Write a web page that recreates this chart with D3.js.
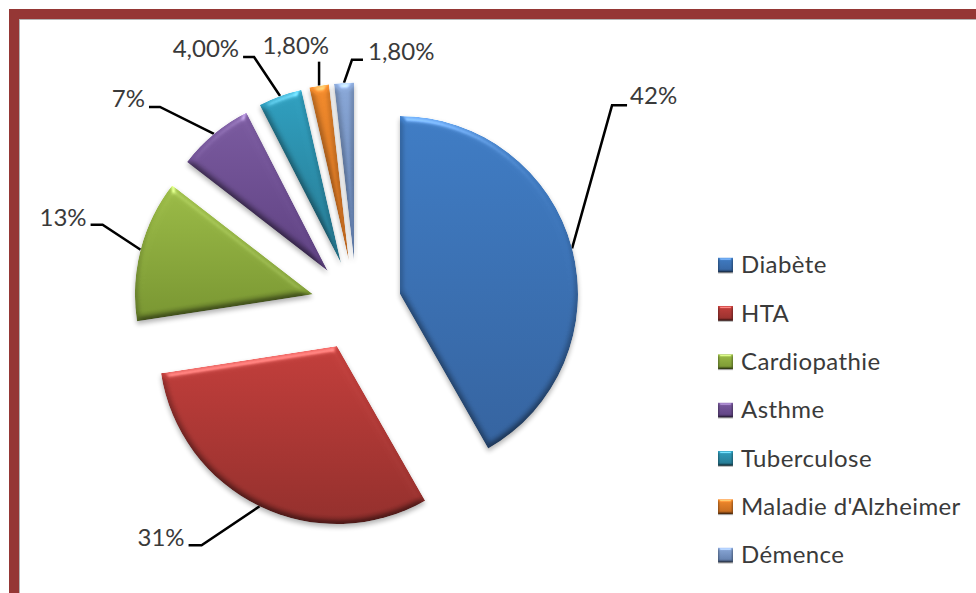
<!DOCTYPE html>
<html>
<head>
<meta charset="utf-8">
<script src="https://cdnjs.cloudflare.com/ajax/libs/d3/7.8.5/d3.min.js"></script>
<style>
  body { margin: 0; background: #fff; }
  text { font-family: Lato, "Open Sans", sans-serif; fill: #3a3a3a; }
</style>
</head>
<body>
<svg></svg>
<script>
// values as printed on the chart (they add up to 100.6, d3.pie normalises them)
var categories = ["Diabète", "HTA", "Cardiopathie", "Asthme", "Tuberculose", "Maladie d'Alzheimer", "Démence"];
var values = [42, 31, 13, 7, 4, 1.8, 1.8];
var valueLabels = ["42%", "31%", "13%", "7%", "4,00%", "1,80%", "1,80%"];
var topColors = ["#3f7cc4", "#c23e3b", "#9bbb47", "#7a5a9f", "#2f9fbf", "#f28a2b", "#8aa8d8"];
var bottomColors = ["#35639f", "#932f2c", "#789531", "#5d4080", "#25768e", "#bf661d", "#5e7aa8"];

var width = 976, height = 593;
var cx = 356.5, cy = 305.5, radius = 178, explode = 45;

// leader line: elbow and end, relative to the slice's outer edge
var leaderElbow = [[40, -143], [-58, 39], [-38, -25], [-54, -27], [-26, -39], [0, -24], [8, -23]];
var leaderEnd = [[55, -143], [-71, 39], [-50, -25], [-65, -27], [-37, -39], [0, -24], [19, -23]];
// label anchor, relative to the leader's end
var labelShift = [[3, -10], [-4, -8], [-4, -7], [-4, -8], [-4, -8], [10, -16], [5, -8]];
var labelAnchor = ["start", "end", "end", "end", "end", "end", "start"];

var svg = d3.select("svg").attr("width", width).attr("height", height).style("display", "block");
var defs = svg.append("defs");

// one vertical gradient for each category
categories.forEach(function (c, i) {
  var g = defs.append("linearGradient").attr("id", "grad" + i)
    .attr("x1", 0).attr("y1", 0).attr("x2", 0).attr("y2", 1);
  g.append("stop").attr("offset", "0%").attr("stop-color", topColors[i]);
  g.append("stop").attr("offset", "100%").attr("stop-color", bottomColors[i]);
});

// bevel + soft shadow, used by slices and legend keys
function bevel(id, blur, scale, shadow) {
  var f = defs.append("filter").attr("id", id)
    .attr("x", "-20%").attr("y", "-20%").attr("width", "140%").attr("height", "140%")
    .attr("color-interpolation-filters", "sRGB");
  f.append("feGaussianBlur").attr("in", "SourceAlpha").attr("stdDeviation", blur).attr("result", "b");
  var d = f.append("feDiffuseLighting").attr("in", "b").attr("surfaceScale", scale)
    .attr("diffuseConstant", 1.155).attr("lighting-color", "#fff").attr("result", "diff");
  d.append("feDistantLight").attr("azimuth", 270).attr("elevation", 60);
  f.append("feBlend").attr("in", "SourceGraphic").attr("in2", "diff").attr("mode", "multiply").attr("result", "m");
  var s = f.append("feSpecularLighting").attr("in", "b").attr("surfaceScale", scale)
    .attr("specularConstant", 0.3).attr("specularExponent", 40).attr("lighting-color", "#fff").attr("result", "spec");
  s.append("feDistantLight").attr("azimuth", 270).attr("elevation", 40);
  f.append("feComposite").attr("in", "m").attr("in2", "spec").attr("operator", "arithmetic")
    .attr("k1", 0).attr("k2", 1).attr("k3", 1).attr("k4", 0).attr("result", "lit");
  f.append("feComposite").attr("in", "lit").attr("in2", "SourceAlpha").attr("operator", "in").attr("result", "body");
  f.append("feGaussianBlur").attr("in", "SourceAlpha").attr("stdDeviation", shadow).attr("result", "sb");
  f.append("feOffset").attr("in", "sb").attr("dy", shadow).attr("result", "so");
  f.append("feComponentTransfer").attr("in", "so").attr("result", "sh")
    .append("feFuncA").attr("type", "linear").attr("slope", 0.3);
  var m = f.append("feMerge");
  m.append("feMergeNode").attr("in", "sh");
  m.append("feMergeNode").attr("in", "body");
}
bevel("bevel", 3.5, 3, 2.5);
bevel("bevelSmall", 1, 1.5, 0.6);

// frame
svg.append("rect").attr("x", 14).attr("y", 14).attr("width", width).attr("height", height)
  .attr("fill", "none").attr("stroke", "#953735").attr("stroke-width", 10);
svg.append("rect").attr("x", 19.5).attr("y", 19.5).attr("width", width).attr("height", height)
  .attr("fill", "none").attr("stroke", "#b5b5b5").attr("stroke-width", 1);

// pie
var pie = d3.pie().sort(null).value(function (d) { return d; });
var arc = d3.arc().innerRadius(0).outerRadius(radius);
var slices = pie(values);

function mid(d) { return (d.startAngle + d.endAngle) / 2; }
// apex of an exploded slice
function apex(d) {
  return [cx + explode * Math.sin(mid(d)), cy - explode * Math.cos(mid(d))];
}
// middle of the outer edge of an exploded slice
function rim(d) {
  var a = apex(d);
  return [a[0] + radius * Math.sin(mid(d)), a[1] - radius * Math.cos(mid(d))];
}

// leader lines go under the slices
var line = d3.line();
svg.append("g").selectAll("path").data(slices).enter().append("path")
  .attr("d", function (d, i) {
    var r = rim(d);
    return line([r,
      [r[0] + leaderElbow[i][0], r[1] + leaderElbow[i][1]],
      [r[0] + leaderEnd[i][0], r[1] + leaderEnd[i][1]]]);
  })
  .attr("fill", "none").attr("stroke", "#000").attr("stroke-width", 2.5);

svg.append("g").selectAll("path").data(slices).enter().append("path")
  .attr("d", arc)
  .attr("transform", function (d) { return "translate(" + apex(d) + ")"; })
  .attr("fill", function (d, i) { return "url(#grad" + i + ")"; })
  .attr("filter", "url(#bevel)");

svg.append("g").selectAll("text").data(slices).enter().append("text")
  .attr("x", function (d, i) { return rim(d)[0] + leaderEnd[i][0] + labelShift[i][0]; })
  .attr("y", function (d, i) { return rim(d)[1] + leaderEnd[i][1] + labelShift[i][1]; })
  .attr("dy", "0.35em")
  .attr("text-anchor", function (d, i) { return labelAnchor[i]; })
  .style("font-size", "24px")
  .text(function (d, i) { return valueLabels[i]; });

// legend
var legendY = d3.scalePoint().domain(categories).range([265, 555]);
var legend = svg.append("g").selectAll("g").data(categories).enter().append("g")
  .attr("transform", function (d) { return "translate(718," + legendY(d) + ")"; });
legend.append("rect").attr("x", 0).attr("y", -7.5).attr("width", 15).attr("height", 15)
  .attr("fill", function (d, i) { return "url(#grad" + i + ")"; })
  .attr("filter", "url(#bevelSmall)");
legend.append("text").attr("x", 23).attr("dy", "0.35em")
  .style("font-size", "24px")
  .style("letter-spacing", "0.4px")
  .text(function (d) { return d; });
</script>
</body>
</html>
